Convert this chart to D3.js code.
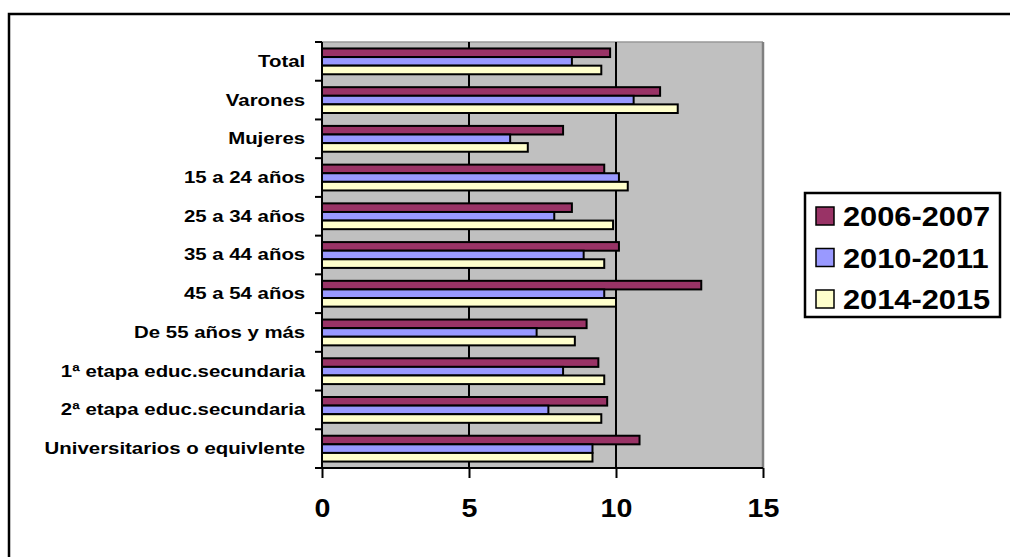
<!DOCTYPE html>
<html>
<head>
<meta charset="utf-8">
<script src="https://cdn.jsdelivr.net/npm/d3@7"></script>
<style>
  body { margin: 0; background: #fff; }
  svg text { font-family: "Liberation Sans", Arial, sans-serif; font-weight: bold; fill: #000; }
</style>
</head>
<body>
<div id="chart"></div>
<script>
// data
const categories = [
  "Total", "Varones", "Mujeres", "15 a 24 años", "25 a 34 años", "35 a 44 años",
  "45 a 54 años", "De 55 años y más", "1ª etapa educ.secundaria",
  "2ª etapa educ.secundaria", "Universitarios o equivlente"
];
const series = ["2006-2007", "2010-2011", "2014-2015"];
const values2006 = [9.8, 11.5, 8.2, 9.6, 8.5, 10.1, 12.9, 9.0, 9.4, 9.7, 10.8];
const values2010 = [8.5, 10.6, 6.4, 10.1, 7.9, 8.9, 9.6, 7.3, 8.2, 7.7, 9.2];
const values2014 = [9.5, 12.1, 7.0, 10.4, 9.9, 9.6, 10.0, 8.6, 9.6, 9.5, 9.2];
const xTicks = [0, 5, 10, 15];
const colors = ["#993366", "#9999FF", "#FFFFCC"];

const seriesValues = [values2006, values2010, values2014];
const rows = categories.map((c, i) => ({
  category: c,
  values: series.map((s, j) => ({ series: s, value: seriesValues[j][i] }))
}));

// dimensions
const W = 1010, H = 557;
const plot = { left: 322, top: 42, right: 763, bottom: 468 };

const svg = d3.select("#chart")
  .append("svg")
  .attr("width", W)
  .attr("height", H);

// outer chart border
svg.append("rect")
  .attr("x", 9).attr("y", 14)
  .attr("width", W + 20).attr("height", H + 20)
  .attr("fill", "#fff")
  .attr("stroke", "#000")
  .attr("stroke-width", 2.5);

// scales
const x = d3.scaleLinear()
  .domain([0, 15])
  .range([plot.left, plot.right]);

const y = d3.scaleBand()
  .domain(categories)
  .range([plot.top, plot.bottom])
  .padding(0);

const ySub = d3.scaleBand()
  .domain(series)
  .range([0, y.bandwidth()])
  .paddingInner(0)
  .paddingOuter(0.75);

const color = d3.scaleOrdinal().domain(series).range(colors);

// plot area
svg.append("rect")
  .attr("x", plot.left).attr("y", plot.top)
  .attr("width", plot.right - plot.left)
  .attr("height", plot.bottom - plot.top)
  .attr("fill", "#C0C0C0");

svg.append("line")
  .attr("x1", plot.left).attr("x2", plot.right)
  .attr("y1", plot.top).attr("y2", plot.top)
  .attr("stroke", "#999").attr("stroke-width", 1.5);
svg.append("line")
  .attr("x1", plot.right).attr("x2", plot.right)
  .attr("y1", plot.top).attr("y2", plot.bottom)
  .attr("stroke", "#808080").attr("stroke-width", 2.5);

// gridlines
svg.append("g")
  .selectAll("line")
  .data(xTicks.filter(t => t > 0 && t < 15))
  .join("line")
  .attr("x1", d => x(d)).attr("x2", d => x(d))
  .attr("y1", plot.top).attr("y2", plot.bottom)
  .attr("stroke", "#000")
  .attr("stroke-width", 2);

// bars
const groups = svg.append("g")
  .selectAll("g")
  .data(rows)
  .join("g")
  .attr("transform", d => `translate(0,${y(d.category)})`);

groups.selectAll("rect")
  .data(d => d.values)
  .join("rect")
  .attr("x", x(0))
  .attr("y", d => ySub(d.series))
  .attr("width", d => x(d.value) - x(0))
  .attr("height", ySub.bandwidth())
  .attr("fill", d => color(d.series))
  .attr("stroke", "#000")
  .attr("stroke-width", 2);

// y axis
svg.append("line")
  .attr("x1", plot.left).attr("x2", plot.left)
  .attr("y1", plot.top).attr("y2", plot.bottom)
  .attr("stroke", "#000").attr("stroke-width", 2);

svg.append("g")
  .selectAll("line")
  .data(categories.map(c => y(c)).concat([y.range()[1]]))
  .join("line")
  .attr("x1", plot.left - 7).attr("x2", plot.left)
  .attr("y1", d => d).attr("y2", d => d)
  .attr("stroke", "#000").attr("stroke-width", 2);

const yAxis = svg.append("g")
  .attr("transform", `translate(${plot.left},0)`)
  .call(d3.axisLeft(y).tickSize(0).tickPadding(14));
yAxis.select(".domain").remove();
yAxis.selectAll("text")
  .style("font-size", "17px")
  .attr("transform", "scale(1.2,1)");

// x axis
const xAxis = svg.append("g")
  .attr("transform", `translate(0,${plot.bottom})`)
  .call(d3.axisBottom(x).tickValues(xTicks).tickSize(10).tickPadding(21));
xAxis.select(".domain")
  .attr("d", `M${plot.left - 7},0H${plot.right}`)
  .attr("stroke-width", 2);
xAxis.selectAll(".tick line").attr("stroke-width", 2);
xAxis.selectAll("text")
  .style("font-size", "26px")
  .attr("transform", "scale(1.1,1)");

// legend
const legend = svg.append("g");
legend.append("rect")
  .attr("x", 805).attr("y", 193)
  .attr("width", 195).attr("height", 124)
  .attr("fill", "#fff")
  .attr("stroke", "#000")
  .attr("stroke-width", 2.5);

const legendY = d3.scalePoint()
  .domain(series)
  .range([216, 299]);

const items = legend.selectAll("g.item")
  .data(series)
  .join("g")
  .attr("class", "item")
  .attr("transform", d => `translate(816,${legendY(d)})`);

items.append("rect")
  .attr("x", 0).attr("y", -9)
  .attr("width", 18).attr("height", 18)
  .attr("fill", d => color(d))
  .attr("stroke", "#000")
  .attr("stroke-width", 1.5);

items.append("text")
  .attr("x", 27)
  .attr("dy", "0.36em")
  .style("font-size", "28px")
  .attr("transform", "scale(1.1,1)")
  .attr("transform-origin", "27 0")
  .text(d => d);
</script>
</body>
</html>
